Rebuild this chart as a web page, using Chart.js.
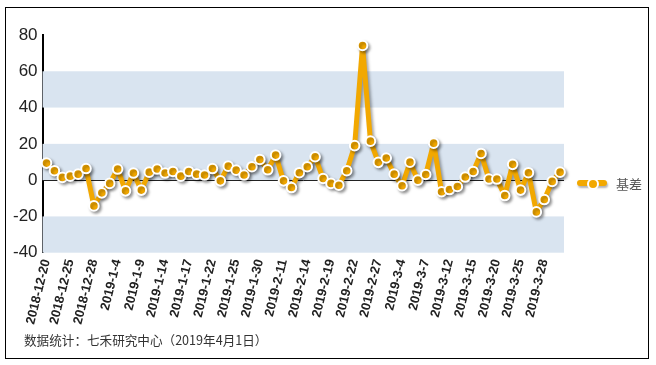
<!DOCTYPE html>
<html>
<head>
<meta charset="utf-8">
<script src="https://cdn.jsdelivr.net/npm/chart.js@4.4.0/dist/chart.umd.min.js"></script>
<style>
  body { margin: 0; background: #fff; }
  #wrap { position: relative; width: 656px; height: 365px; }
  #frame { position: absolute; left: 5px; top: 7px; width: 642px; height: 350px; border: 1px solid #000; pointer-events: none; }
  #note { position: absolute; left: 24px; top: 330px; font: 12.6px "Noto Sans CJK SC", sans-serif; color: #333; }
  #legend { position: absolute; left: 577px; top: 174px; height: 18px; font: 13px "Noto Sans CJK SC", sans-serif; color: #555; }
  #legend .bar { position: absolute; left: 0; top: 6px; width: 30px; height: 6px; border-radius: 3px; background: #f2a800; box-shadow: 1px 2px 2px rgba(0,0,0,0.3); }
  #legend .dot { position: absolute; left: 10px; top: 4px; width: 8px; height: 8px; border-radius: 50%; background: #f2a800; border: 2px solid #fff; }
  #legend .txt { position: absolute; left: 39px; top: 0; white-space: nowrap; }
</style>
</head>
<body>
<div id="wrap">
  <canvas id="chart" width="656" height="365"></canvas>
  <div id="frame"></div>
  <div id="legend"><span class="bar"></span><span class="dot"></span><span class="txt">基差</span></div>
  <div id="note">数据统计：七禾研究中心（2019年4月1日）</div>
</div>
<script>
const dates = [
  '2018-12-20', '2018-12-21', '2018-12-24', '2018-12-25', '2018-12-26', '2018-12-27', '2018-12-28',
  '2019-1-2', '2019-1-3', '2019-1-4', '2019-1-7', '2019-1-8', '2019-1-9', '2019-1-10', '2019-1-11',
  '2019-1-14', '2019-1-15', '2019-1-16', '2019-1-17', '2019-1-18', '2019-1-21', '2019-1-22', '2019-1-23',
  '2019-1-24', '2019-1-25', '2019-1-28', '2019-1-29', '2019-1-30', '2019-1-31', '2019-2-1',
  '2019-2-11', '2019-2-12', '2019-2-13', '2019-2-14', '2019-2-15', '2019-2-18', '2019-2-19', '2019-2-20',
  '2019-2-21', '2019-2-22', '2019-2-25', '2019-2-26', '2019-2-27', '2019-2-28', '2019-3-1',
  '2019-3-4', '2019-3-5', '2019-3-6', '2019-3-7', '2019-3-8', '2019-3-11', '2019-3-12', '2019-3-13',
  '2019-3-14', '2019-3-15', '2019-3-18', '2019-3-19', '2019-3-20', '2019-3-21', '2019-3-22',
  '2019-3-25', '2019-3-26', '2019-3-27', '2019-3-28', '2019-3-29', '2019-4-1'
];
const basis = [
  9.4, 5.2, 1.5, 2.2, 3.3, 6.4, -14.2, -7.0, -1.8, 6.1, -5.9, 3.9, -5.5, 4.4, 6.1, 3.9, 4.8,
  2.2, 4.8, 3.3, 2.8, 6.4, -0.4, 7.7, 5.5, 2.8, 7.4, 11.4, 5.7, 13.8, -0.4, -4.1, 4.1,
  7.4, 12.9, 0.9, -1.8, -2.8, 5.2, 19.0, 74.2, 21.5, 9.8, 12.2, 3.3, -3.1, 9.9, 0, 3.1, 20.4,
  -6.4, -5.2, -3.5, 1.7, 4.8, 14.7, 0.6, 0.6, -8.5, 8.7, -5.5, 4.1, -17.5, -10.7, -0.7, 4.4
];
const seriesName = '基差';
const yTicks = [-40, -20, 0, 20, 40, 60, 80];

// alternate bands + zero line behind the data
const bands = {
  id: 'bands',
  beforeDatasetsDraw(chart) {
    const { ctx, chartArea, scales: { y } } = chart;
    ctx.save();
    ctx.fillStyle = '#d9e4f0';
    for (let i = 0; i < yTicks.length - 1; i += 2) {
      const top = y.getPixelForValue(yTicks[i + 1]);
      const bot = y.getPixelForValue(yTicks[i]);
      ctx.fillRect(chartArea.left, top, chartArea.right - chartArea.left, bot - top);
    }
    const z = Math.round(y.getPixelForValue(0)) + 0.5;
    ctx.strokeStyle = '#222';
    ctx.lineWidth = 1;
    ctx.beginPath();
    ctx.moveTo(chartArea.left, z);
    ctx.lineTo(chartArea.right, z);
    ctx.stroke();
    ctx.restore();
  }
};

// soft drop shadow under line and markers
const shadow = {
  id: 'shadow',
  beforeDatasetDraw(chart) {
    const ctx = chart.ctx;
    ctx.save();
    ctx.shadowColor = 'rgba(0,0,0,0.35)';
    ctx.shadowOffsetX = 2;
    ctx.shadowOffsetY = 2;
    ctx.shadowBlur = 3;
  },
  afterDatasetDraw(chart) {
    chart.ctx.restore();
  }
};

new Chart(document.getElementById('chart'), {
  type: 'line',
  data: {
    labels: dates,
    datasets: [{
      label: seriesName,
      data: basis,
      borderColor: '#f2a800',
      backgroundColor: '#f2a800',
      borderWidth: 5,
      borderJoinStyle: 'round',
      tension: 0,
      pointRadius: 4.8,
      pointBorderWidth: 2,
      pointBorderColor: '#fff',
      pointBackgroundColor: '#f2a800'
    }]
  },
  options: {
    responsive: false,
    animation: false,
    layout: { padding: { left: 8, right: 92, top: 35, bottom: 34 } },
    plugins: { legend: { display: false }, tooltip: { enabled: false } },
    scales: {
      x: {
        offset: true,
        grid: { display: false, drawTicks: false },
        border: { display: false },
        ticks: {
          autoSkip: false,
          minRotation: 76,
          maxRotation: 76,
          padding: 5,
          color: '#222',
          font: { family: 'Liberation Sans, Arial, sans-serif', size: 13, weight: 'bold' },
          callback: (v, i) => (i % 3 === 0 ? dates[i] : '')
        }
      },
      y: {
        min: -40,
        max: 80,
        grid: { display: false, drawTicks: false },
        border: { display: true, color: '#000', width: 2 },
        ticks: {
          stepSize: 20,
          padding: 5,
          color: '#222',
          font: { family: 'Liberation Sans, Arial, sans-serif', size: 17 }
        }
      }
    }
  },
  plugins: [bands, shadow]
});
</script>
</body>
</html>
